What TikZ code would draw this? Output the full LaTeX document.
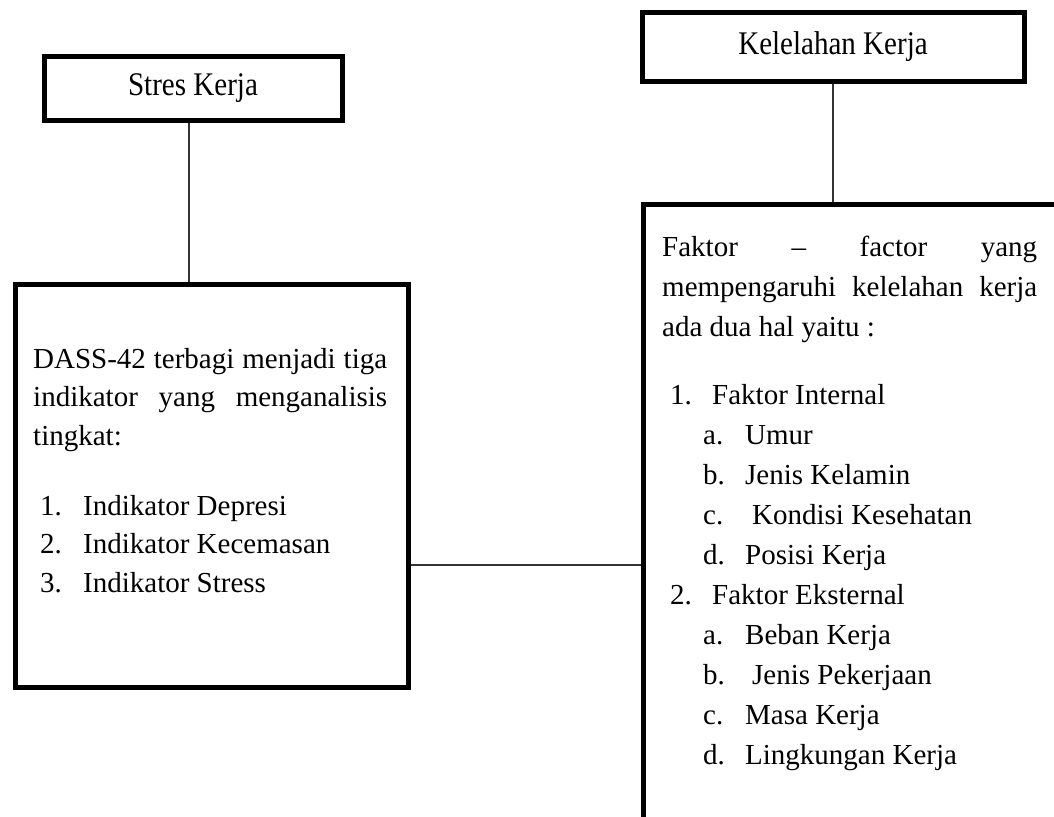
\documentclass[tikz,border=0pt]{standalone}
\usepackage{fontspec}
\setmainfont{Liberation Serif}
\newfontfamily\titlefont{Liberation Serif}[FakeStretch=0.88]
\usepackage{tikz}
\usetikzlibrary{positioning}
\setlength{\parindent}{0pt}

\begin{document}
\begin{tikzpicture}[x=1pt, y=-1pt,
    outerbox/.style={draw=black, line width=5pt, rectangle, inner sep=0pt, font=\titlefont\fontsize{33}{38}\selectfont},
    link/.style={draw=black!80, line width=1.4pt},
    bodytext/.style={anchor=north west, inner sep=0pt, align=justify}]

    % page frame
    \useasboundingbox (0,0) rectangle (1054,816);
    \clip (0,0) rectangle (1054,816);

    % =====================================================
    % LEFT SIDE: STRES KERJA
    % =====================================================
    \node[outerbox, minimum width=298pt, minimum height=63pt] (stres) at (193,88.5) {Stres Kerja};

    % Box with the DASS-42 indicators
    \node[outerbox, anchor=north west, minimum width=393pt, minimum height=403pt] (dass) at (12.5,282) {};
    \node[bodytext, text width=354pt, font=\fontsize{29}{38.5}\selectfont] (dasstext) at (33,348) {%
        DASS-42\hfill terbagi\hfill menjadi\hfill tiga\\
        indikator\hfill yang\hfill menganalisis\\
        tingkat:\\[31.5pt]
        \hspace*{7pt}\makebox[43pt][l]{1.}Indikator Depresi\\
        \hspace*{7pt}\makebox[43pt][l]{2.}Indikator Kecemasan\\
        \hspace*{7pt}\makebox[43pt][l]{3.}Indikator Stress};

    % Connector
    \draw[link] ([xshift=-4pt]stres.south) -- ([xshift=-4pt]stres.south |- dass.north);


    % =====================================================
    % RIGHT SIDE: KELELAHAN KERJA
    % =====================================================
    \node[outerbox, minimum width=382pt, minimum height=68pt] (lelah) at (833,47) {Kelelahan Kerja};

    % Box with the factors (runs off the page)
    \node[outerbox, anchor=north west, minimum width=460pt, minimum height=700pt] (faktor) at (640.5,202) {};
    \node[bodytext, text width=375pt, font=\fontsize{29}{40}\selectfont] (faktortext) at (662,236) {%
        Faktor\hfill --\hfill factor\hfill yang\\
        mempengaruhi\hfill kelelahan\hfill kerja\\
        ada dua hal yaitu :\\[28pt]
        \hspace*{8pt}\makebox[42pt][l]{1.}Faktor Internal\\
        \hspace*{41pt}\makebox[42pt][l]{a.}Umur\\
        \hspace*{41pt}\makebox[42pt][l]{b.}Jenis Kelamin\\
        \hspace*{41pt}\makebox[49pt][l]{c.}Kondisi Kesehatan\\
        \hspace*{41pt}\makebox[42pt][l]{d.}Posisi Kerja\\
        \hspace*{8pt}\makebox[42pt][l]{2.}Faktor Eksternal\\
        \hspace*{41pt}\makebox[42pt][l]{a.}Beban Kerja\\
        \hspace*{41pt}\makebox[49pt][l]{b.}Jenis Pekerjaan\\
        \hspace*{41pt}\makebox[42pt][l]{c.}Masa Kerja\\
        \hspace*{41pt}\makebox[42pt][l]{d.}Lingkungan Kerja};

    % Connectors
    \draw[link] (lelah.south) -- (lelah.south |- faktor.north);
    \coordinate (joint) at (520,565);
    \draw[link] (dass.east |- joint) -- (faktor.west |- joint);

\end{tikzpicture}
\end{document}
